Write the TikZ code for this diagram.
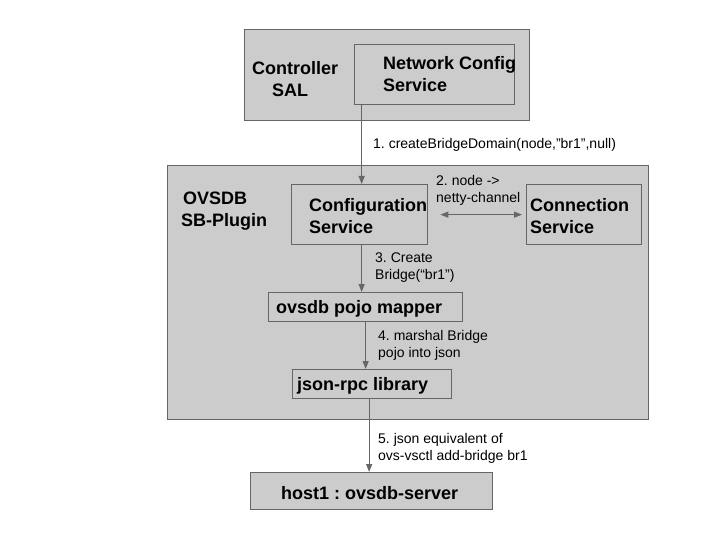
\documentclass[tikz,border=0pt]{standalone}
\usepackage{fontspec}
\setmainfont{Liberation Sans}
\usetikzlibrary{arrows.meta}
\definecolor{boxfill}{HTML}{CCCCCC}
\definecolor{edgecol}{HTML}{666666}
\begin{document}
\frenchspacing
\begin{tikzpicture}[x=1pt,y=-1pt,
  box/.style={draw=edgecol, fill=boxfill, line width=1.3pt, inner sep=0pt, anchor=north west},
  big/.style={font=\fontsize{18}{22}\selectfont\bfseries, align=left, inner sep=0pt},
  small/.style={font=\fontsize{14}{17}\selectfont, align=left, inner sep=0pt, anchor=west},
  arr/.style={draw=edgecol, line width=1.3pt, -{Triangle[length=8pt,width=6pt]}},
  arrtwo/.style={draw=edgecol, line width=1.3pt, {Triangle[length=8pt,width=6pt]}-{Triangle[length=8pt,width=6pt]}}]
\useasboundingbox (0,0) rectangle (720,540);
\fill[white] (0,0) rectangle (720,540);
% Controller SAL
\node[box, minimum width=285pt, minimum height=91pt] (ctrl) at (244,29) {};
\node[box, minimum width=160pt, minimum height=60pt] (ncs) at (354,44) {};
\node[big, anchor=west] (ctrltxt) at (252,79) {Controller\\\hspace*{20pt}SAL};
\node[big, anchor=west] (ncstxt) at (383,74) {Network Config\\Service};
% OVSDB plugin
\node[box, minimum width=481pt, minimum height=254pt] (ovsdb) at (167,165) {};
\node[big, anchor=west] (ovsdbtxt) at (181,211) {\hspace*{2pt}OVSDB\\SB-Plugin};
\node[box, minimum width=136pt, minimum height=60pt] (cfg) at (291,184) {};
\node[big, anchor=west] (cfgtxt) at (309,216) {Configuration\\Service};
\node[box, minimum width=115pt, minimum height=60pt] (conn) at (526,184) {};
\node[big, anchor=west] (conntxt) at (530,216) {Connection\\Service};
\node[box, minimum width=194pt, minimum height=29pt] (pojo) at (268,292) {};
\node[big, anchor=west] (pojotxt) at (276,309) {ovsdb pojo mapper};
\node[box, minimum width=159pt, minimum height=29pt] (json) at (292,369) {};
\node[big, anchor=west] (jsontxt) at (297,386) {json-rpc library};
% host
\node[box, minimum width=242pt, minimum height=37pt] (host) at (250,472) {};
\node[big] (hosttxt) at ([xshift=-2pt,yshift=-2pt]host.center) {host1 : ovsdb-server};
% connectors
\draw[arr] ([xshift=2pt]cfg.north |- ncs.south) -- ([xshift=2pt]cfg.north);
\draw[arr] ([xshift=2pt]cfg.south) -- ([xshift=2pt]cfg.south |- pojo.north);
\draw[arr] (pojo.south) -- (pojo.south |- json.north);
\draw[arr] ([xshift=-3pt]json.south) -- ([xshift=-3pt]json.south |- host.north);
\draw[arrtwo, shorten <=12pt, shorten >=4pt] (cfg.east) -- (conn.west);
% labels
\node[small] (l1) at (373,145) {1. createBridgeDomain(node,”br1”,null)};
\node[small] (l2) at (436,190) {2. node ->\\netty-channel};
\node[small] (l3) at (375,268) {3. Create\\Bridge(“br1”)};
\node[small] (l4) at (378,345) {4. marshal Bridge\\pojo into json};
\node[small] (l5) at (378,448) {5. json equivalent of\\ovs-vsctl add-bridge br1};
\end{tikzpicture}
\end{document}
